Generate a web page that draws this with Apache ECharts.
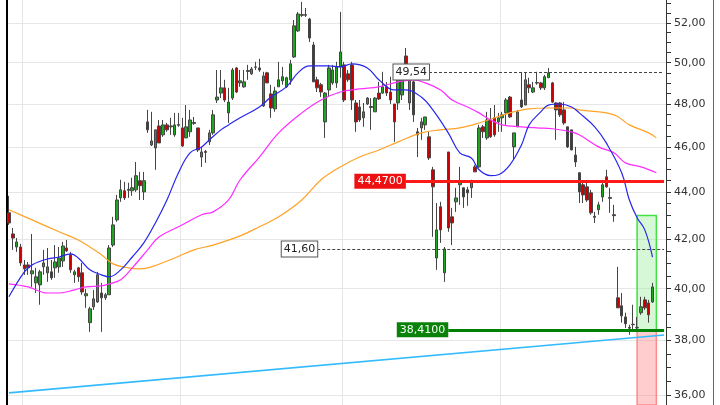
<!DOCTYPE html>
<html><head><meta charset="utf-8">
<script src="https://cdn.jsdelivr.net/npm/echarts@6/dist/echarts.min.js"></script>
<style>html,body{margin:0;padding:0;background:#fff}#c{width:720px;height:405px}</style>
</head><body><div id="c"></div>
<script>
const opens = [43.11,42.22,41.68,41.68,40.95,40.95,40.59,40.23,40.15,40.87,
40.63,40.67,40.83,40.87,41.11,41.64,41.36,40.55,40.83,40.63,
39.72,38.68,39.29,39.48,39.83,39.64,39.76,41.76,42.81,43.75,
44.06,44.12,44.06,44.10,44.50,44.01,47.16,46.10,45.96,46.97,
46.56,47.02,46.97,46.56,47.04,46.88,46.42,46.70,47.13,46.88,
45.55,45.80,46.24,46.65,48.19,48.52,48.77,47.58,48.28,49.74,
49.01,48.82,49.61,49.45,49.79,49.74,47.91,49.50,48.48,47.77,
48.82,49.11,48.82,49.16,50.28,51.59,52.43,52.39,52.20,50.88,
49.16,48.92,47.16,48.67,49.01,49.01,49.79,49.89,49.45,49.89,
48.05,47.86,47.35,48.00,47.88,47.63,48.52,48.52,48.82,48.57,
48.00,48.05,48.43,50.33,48.05,49.06,46.70,46.88,47.02,46.47,
44.98,41.23,43.37,40.63,45.78,42.94,43.58,44.32,44.19,44.10,
44.19,45.11,45.11,46.93,46.42,47.25,47.35,47.16,47.35,47.58,
48.33,46.01,46.93,48.19,47.95,48.92,48.57,49.03,49.01,48.77,
49.26,49.01,48.05,48.05,47.72,46.93,46.79,45.64,44.85,44.32,
44.23,43.97,42.96,43.24,43.79,44.67,43.77,43.03,39.64,39.33,
38.90,38.50,38.60,38.48,39.06,39.56,39.44,39.48];
const closes = [42.68,42.05,41.89,41.03,40.79,40.83,40.71,40.47,40.67,41.03,
40.87,40.43,41.07,41.23,41.72,41.52,40.75,40.67,40.47,39.87,
39.80,39.21,39.60,40.55,39.64,39.76,41.64,42.60,43.66,44.10,
43.75,44.08,44.19,44.72,44.28,44.50,46.79,46.28,46.79,46.19,
47.02,46.79,46.93,47.02,47.00,46.05,46.93,47.25,47.09,45.87,
45.78,45.76,46.65,47.49,48.33,48.77,48.19,48.09,49.64,48.57,
49.11,49.06,49.57,49.69,49.77,49.64,49.35,49.01,47.81,48.62,
49.16,49.31,49.26,49.94,51.85,52.46,52.39,52.43,51.23,49.06,
48.77,48.57,48.52,49.74,49.64,49.79,50.53,48.19,49.16,48.19,
47.16,47.25,47.63,48.28,47.84,48.28,48.24,48.82,48.52,48.19,
47.16,49.26,49.16,49.94,49.26,47.49,46.56,47.16,47.39,45.51,
44.23,42.39,42.39,41.60,42.47,42.68,43.75,44.45,43.79,43.97,
44.45,44.89,46.88,46.70,47.25,46.47,46.56,47.35,47.49,48.19,
47.39,46.65,47.63,47.86,49.16,48.77,48.77,49.00,48.77,49.31,
49.50,48.09,47.72,47.49,47.11,46.01,45.87,45.33,44.01,43.88,
43.66,43.11,42.92,43.45,44.32,44.23,43.73,42.99,39.25,38.94,
38.64,38.47,38.62,38.50,39.29,39.25,38.98,40.07];
const lows = [42.60,41.56,41.48,40.91,40.55,40.55,40.07,39.83,39.37,40.55,
40.27,40.35,40.43,40.63,40.87,41.48,40.63,40.23,40.27,39.76,
39.25,38.33,39.17,39.44,38.33,39.56,39.76,41.68,42.73,43.58,
43.66,43.75,43.84,44.01,43.66,43.66,46.65,46.05,44.98,46.19,
46.47,46.70,46.56,46.47,46.93,46.01,46.42,46.47,47.02,45.78,
45.11,45.29,46.10,46.56,48.05,48.28,48.09,47.11,48.19,48.52,
48.82,48.77,49.16,49.40,49.64,49.55,47.86,49.01,47.35,47.63,
48.82,48.92,48.77,48.92,50.24,51.54,52.31,52.31,51.03,49.06,
48.57,48.33,46.42,48.33,48.92,48.77,49.26,48.09,49.06,47.72,
46.70,47.16,46.93,47.95,46.79,47.63,48.19,48.48,48.38,48.00,
46.24,47.72,48.19,49.50,47.72,47.16,45.55,46.33,46.79,45.42,
42.10,40.75,41.85,40.27,42.31,41.76,43.15,43.45,43.32,43.41,
43.75,44.89,45.07,46.42,46.33,46.42,46.47,46.70,46.70,47.02,
47.35,45.42,46.93,47.81,47.95,48.52,48.52,48.92,48.67,48.67,
49.26,48.05,46.33,47.39,47.02,45.96,45.87,45.11,43.53,43.53,
43.58,43.03,42.68,43.03,43.58,44.19,43.11,42.73,39.25,38.68,
38.48,38.22,38.41,38.41,38.98,39.17,38.68,39.44];
const highs = [43.84,42.47,42.05,41.81,41.15,41.07,42.22,40.83,40.75,41.56,
41.64,41.15,41.76,41.68,41.89,41.97,41.48,40.75,40.87,41.03,
39.99,39.29,39.95,40.67,40.23,39.83,41.76,42.94,43.88,44.54,
44.45,44.41,44.63,45.33,44.89,44.89,47.72,47.63,46.79,47.25,
47.25,47.11,47.35,47.58,47.58,47.35,47.95,47.72,47.39,46.88,
46.01,45.87,46.79,47.72,49.64,49.64,49.16,48.77,49.74,49.79,
49.64,49.64,49.89,49.79,50.04,50.19,49.55,49.55,48.92,48.82,
50.04,49.79,49.31,50.14,52.15,52.57,53.09,52.77,52.26,51.03,
49.31,49.01,48.57,49.89,49.89,50.04,52.57,50.04,49.64,50.04,
48.19,48.19,48.05,48.33,48.28,48.33,49.06,49.55,49.06,49.31,
48.00,49.50,49.40,50.73,49.26,49.11,46.88,47.35,47.39,46.70,
45.11,43.53,43.58,41.68,45.78,43.32,44.19,45.11,44.19,44.23,
44.54,45.20,47.02,47.02,47.63,47.81,47.95,47.58,47.63,48.28,
48.38,46.65,47.72,49.50,49.50,49.26,49.06,49.55,49.06,49.40,
49.74,49.06,48.09,48.09,48.09,46.93,46.79,46.01,44.85,44.41,
44.41,44.10,43.15,43.58,44.41,44.98,44.19,43.45,40.87,39.83,
39.06,38.60,39.37,38.90,39.68,39.68,39.56,40.23];

// moving averages (category index, price)
const maBlueIdx = [0,4,6,10,13,16,18,21,24,26,29,32,35,38,41,44,47,50,52,55,57,60,65,68,72,75,78,83,86,89,93,96,100,103,107,110,114,117,120,122,125,127,130,133,135,138,140,143,146,148,152,155,159,161,163,165,167];
const maBlueVal = [39.68,40.67,40.95,41.19,41.27,41.40,41.23,40.75,40.55,40.47,40.75,41.27,41.85,42.68,43.66,44.85,45.74,46.01,46.33,46.79,47.02,47.35,47.86,48.33,48.82,49.50,49.84,49.84,49.79,49.94,49.74,49.16,48.67,48.67,48.33,47.72,46.65,45.74,45.51,44.98,44.72,44.76,45.20,46.10,47.02,47.63,47.95,48.00,47.86,47.58,46.93,46.19,44.85,43.66,42.90,42.39,41.27];
const maPinkIdx = [0,5,10,13,17,20,24,26,29,32,36,39,44,50,53,57,60,65,70,76,81,86,91,96,101,105,108,112,115,119,122,125,128,133,137,141,146,148,153,157,160,164,168];
const maPinkVal = [40.19,40.07,39.83,39.83,39.95,40.07,40.11,40.19,40.35,40.83,41.56,42.10,42.52,43.03,43.15,43.66,44.54,45.55,46.65,47.58,48.19,48.57,48.72,48.82,49.06,49.16,49.01,48.67,48.19,47.86,47.58,47.25,47.02,46.93,46.88,46.84,46.70,46.56,46.01,45.74,45.29,45.11,44.85];
const maOrangeIdx = [0,6,13,18,24,27,31,34,37,43,48,53,60,65,70,76,81,86,91,96,101,107,112,117,122,130,135,140,146,148,157,161,166,168];
const maOrangeVal = [43.24,42.81,42.31,41.97,41.36,40.99,40.83,40.79,40.87,41.23,41.56,41.76,42.14,42.52,42.94,43.66,44.54,45.11,45.55,45.87,46.24,46.65,46.79,46.88,47.11,47.58,47.77,47.81,47.81,47.72,47.49,47.02,46.65,46.42];

const trendIdx = [0, 170];
const trendVal = [36.09, 38.21];

const levelValues = [44.47, 38.41, 49.54, 41.60];
const levelStart  = [103, 114, 109, 80];
const levelLabels = ['44,4700', '38,4100', '49,54', '41,60'];

const boxIdx = [163, 168];
const boxTop = 43.00, boxMid = 38.41;

const monthStarts = [4, 45, 87, 128];
const yLabelValues = [36,38,40,42,44,46,48,50,52];
const yTickValues = [36,36.5,37,37.5,38,38.5,39,39.5,40,40.5,41,41.5,42,42.5,43,43.5,44,44.5,45,45.5,46,46.5,47,47.5,48,48.5,49,49.5,50,50.5,51,51.5,52,52.5,53];
const yMin = 35.66, yMax = 53.19;
const nCats = 171;

const categories = Array.from({length: nCats}, (_, i) => String(i));
const candles = opens.map((o, i) => [o, closes[i], lows[i], highs[i]]);
const pairs = (a, b) => a.map((x, i) => [x, b[i]]);

const F = 'DejaVu Sans';
const dashedStyle = {color: '#444', width: 1, type: [3, 2]};
const boxLabel = {show: true, position: 'start', distance: 0, color: '#222', backgroundColor: '#fff', borderColor: '#555', borderWidth: 1, padding: [2, 2], fontFamily: F, fontSize: 11};
const bareLog = {type: 'log', min: yMin, max: yMax, axisLabel: {show: false}, splitLine: {show: false}};

const chart = echarts.init(document.getElementById('c'), null, {renderer: 'canvas'});
chart.setOption({
  animation: false,
  backgroundColor: '#fff',
  grid: {left: 7, right: 54, top: 0, bottom: 0},
  xAxis: {
    type: 'category', data: categories, boundaryGap: true,
    axisLine: {show: false}, axisTick: {show: false}, axisLabel: {show: false},
    splitLine: {show: true, interval: (i) => monthStarts.includes(i), lineStyle: {color: '#e6e6e6'}}
  },
  yAxis: [Object.assign({}, bareLog, {
    position: 'right',
    axisLine: {show: true, lineStyle: {color: '#333'}},
    axisTick: {show: true, inside: false, length: 5, customValues: yLabelValues, lineStyle: {color: '#333'}},
    axisLabel: {customValues: yLabelValues, formatter: v => Number(v).toFixed(2).replace('.', ','), color: '#333', fontFamily: F, fontSize: 11, margin: 8},
    splitLine: {show: true, lineStyle: {color: '#e6e6e6'}}
  }), Object.assign({}, bareLog, {
    position: 'left',
    axisLine: {show: true, lineStyle: {color: '#000', width: 2}},
    axisTick: {show: false}
  }), Object.assign({}, bareLog, {
    position: 'right', offset: 47,
    axisLine: {show: true, lineStyle: {color: '#666', width: 1}},
    axisTick: {show: false}
  }), Object.assign({}, bareLog, {
    position: 'right', offset: 0,
    axisLine: {show: false},
    axisTick: {show: true, inside: false, length: 5, customValues: yTickValues, lineStyle: {color: '#333'}}
  })],
  series: [{
    type: 'candlestick', data: candles, barWidth: 3,
    itemStyle: {color: '#1fa51f', color0: '#cc0000', borderColor: '#454545', borderColor0: '#454545', borderWidth: 1},
    markArea: {
      silent: true,
      data: [
        [{coord: [boxIdx[0], boxTop], itemStyle: {color: 'rgba(140,235,140,0.35)', borderColor: '#44e044', borderWidth: 1.5}}, {coord: [boxIdx[1], boxMid]}],
        [{coord: [boxIdx[0], boxMid], itemStyle: {color: 'rgba(255,130,130,0.4)', borderColor: '#ff8a8a', borderWidth: 1.5}}, {coord: [boxIdx[1], yMin]}]
      ]
    },
    markLine: {
      silent: true, symbol: ['none', 'none'],
      data: [
        [{coord: [levelStart[0], levelValues[0]], lineStyle: {color: '#ff1a1a', width: 3, type: 'solid'},
          label: {show: true, position: 'start', distance: 0, formatter: levelLabels[0], color: '#fff', backgroundColor: '#ee1111', padding: [2, 3], fontFamily: F, fontSize: 11}},
         {coord: [nCats - 1, levelValues[0]]}],
        [{coord: [levelStart[1], levelValues[1]], lineStyle: {color: '#008000', width: 3, type: 'solid'},
          label: {show: true, position: 'start', distance: 0, formatter: levelLabels[1], color: '#f4fff4', backgroundColor: '#0a820a', padding: [2, 3], fontFamily: F, fontSize: 11}},
         {coord: [nCats - 1, levelValues[1]]}],
        [{coord: [levelStart[2], levelValues[2]], lineStyle: dashedStyle, label: Object.assign({formatter: levelLabels[2]}, boxLabel)},
         {coord: [nCats - 1, levelValues[2]]}],
        [{coord: [levelStart[3], levelValues[3]], lineStyle: dashedStyle, label: Object.assign({formatter: levelLabels[3]}, boxLabel)},
         {coord: [nCats - 1, levelValues[3]]}]
      ]
    }
  }, {
    type: 'line', data: pairs(maOrangeIdx, maOrangeVal), smooth: 0.4, showSymbol: false,
    lineStyle: {color: '#ffa326', width: 1.2}
  }, {
    type: 'line', data: pairs(maPinkIdx, maPinkVal), smooth: 0.4, showSymbol: false,
    lineStyle: {color: '#ff2bff', width: 1.2}
  }, {
    type: 'line', data: pairs(maBlueIdx, maBlueVal), smooth: 0.4, showSymbol: false,
    lineStyle: {color: '#2626ee', width: 1.2}
  }, {
    type: 'line', data: pairs(trendIdx, trendVal), showSymbol: false,
    lineStyle: {color: '#33bbff', width: 1.6}
  }]
});
</script>
</body></html>
